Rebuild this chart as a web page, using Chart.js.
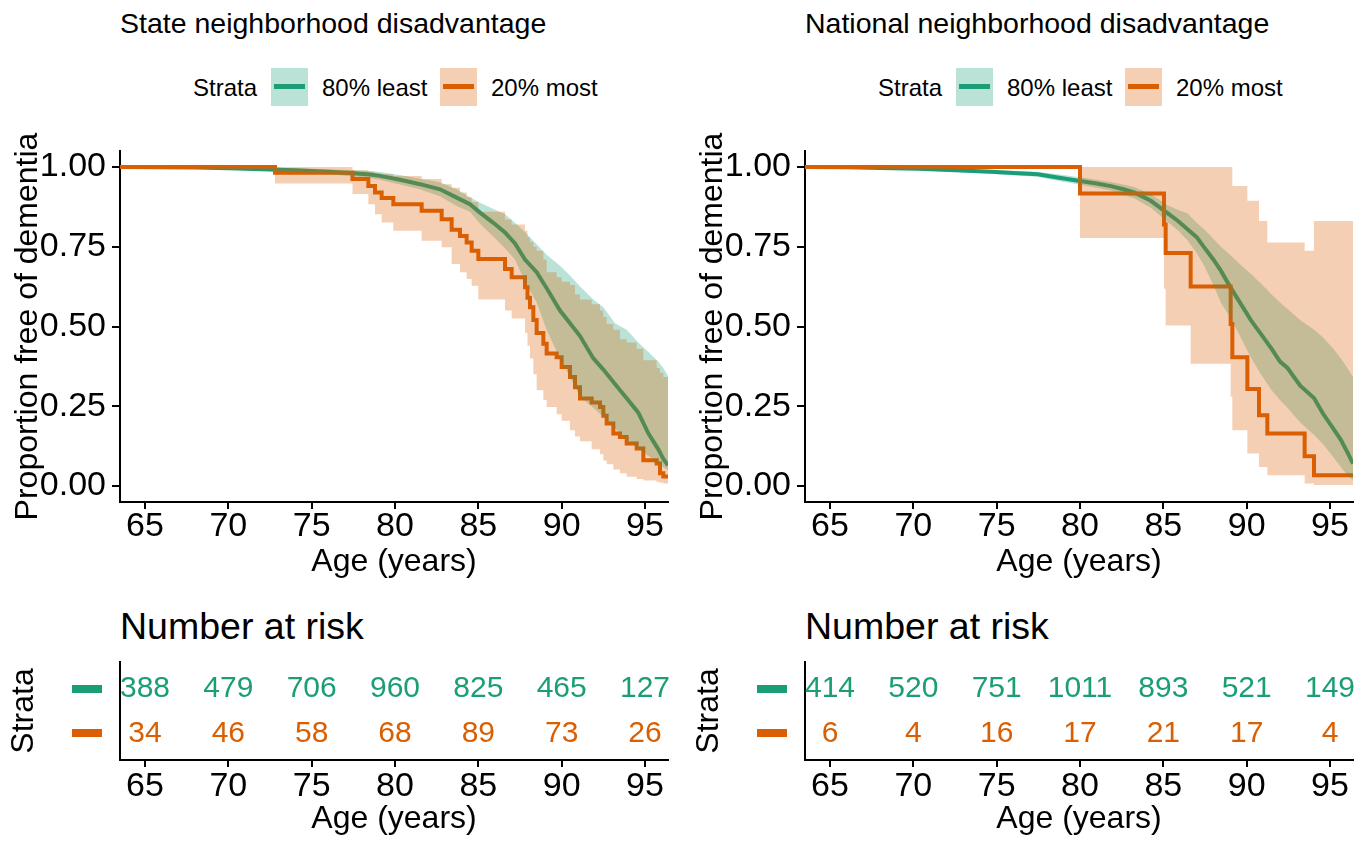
<!DOCTYPE html>
<html><head><meta charset="utf-8">
<script src="https://cdn.jsdelivr.net/npm/chart.js@4.4.0/dist/chart.umd.min.js"></script>
<style>
html,body{margin:0;padding:0;background:#fff;}
body{width:1370px;height:844px;position:relative;overflow:hidden;font-family:'Liberation Sans',Arial,Helvetica,sans-serif;color:#000;}
canvas{position:absolute;}
.t{position:absolute;white-space:nowrap;line-height:1;}
.title{font-size:28.5px;}
.leg{font-size:24px;}
.box{position:absolute;width:37px;height:38px;}
.box i{position:absolute;left:3px;right:3px;top:16px;height:5px;}
.nar{font-size:37.5px;}
</style>
</head><body>

<div class="t title" style="left:120px;top:9px;">State neighborhood disadvantage</div>
<div class="t title" style="left:805px;top:9px;">National neighborhood disadvantage</div>

<div class="t leg" style="left:193px;top:76px;">Strata</div>
<div class="box" style="left:271px;top:68px;background:rgba(27,158,119,0.3)"><i style="background:#1B9E77"></i></div>
<div class="t leg" style="left:322px;top:76px;">80% least</div>
<div class="box" style="left:440px;top:68px;background:rgba(217,95,2,0.3)"><i style="background:#D95F02"></i></div>
<div class="t leg" style="left:491px;top:76px;">20% most</div>

<div class="t leg" style="left:878px;top:76px;">Strata</div>
<div class="box" style="left:956px;top:68px;background:rgba(27,158,119,0.3)"><i style="background:#1B9E77"></i></div>
<div class="t leg" style="left:1007px;top:76px;">80% least</div>
<div class="box" style="left:1125px;top:68px;background:rgba(217,95,2,0.3)"><i style="background:#D95F02"></i></div>
<div class="t leg" style="left:1176px;top:76px;">20% most</div>

<div class="t nar" style="left:120px;top:608px;">Number at risk</div>
<div class="t nar" style="left:805px;top:608px;">Number at risk</div>

<canvas id="kmL" width="685" height="453" style="left:0;top:128px;"></canvas>
<canvas id="kmR" width="685" height="453" style="left:685px;top:128px;"></canvas>
<canvas id="rkL" width="685" height="188" style="left:0;top:650px;"></canvas>
<canvas id="rkR" width="685" height="188" style="left:685px;top:650px;"></canvas>

<script>
// ---------- data ----------
const ageTicks = [65, 70, 75, 80, 85, 90, 95];
const survTicks = [0, 0.25, 0.5, 0.75, 1];

// State neighborhood disadvantage — 80% least
const stateLeastAge   = [63.5, 66, 68, 70, 72, 74, 76, 77.5, 78.5, 79.1, 80.3, 81.5, 82.7, 83.7, 84.5, 85.1, 85.9, 86.6, 87.2, 87.8, 88.5, 89.1, 89.9, 90.5, 91.1, 91.9, 92.5, 93.2, 93.9, 94.6, 95.2, 95.8, 96.1, 96.38];
const stateLeastSurv  = [1.0, 0.999, 0.998, 0.996, 0.993, 0.99, 0.985, 0.98, 0.976, 0.972, 0.96, 0.946, 0.93, 0.904, 0.883, 0.857, 0.825, 0.795, 0.76, 0.71, 0.67, 0.62, 0.55, 0.51, 0.47, 0.40, 0.365, 0.32, 0.275, 0.23, 0.165, 0.115, 0.085, 0.065];
const stateLeastUpper = [1, 1, 1, 0.999, 0.998, 0.996, 0.993, 0.99, 0.987, 0.984, 0.975, 0.963, 0.952, 0.93, 0.905, 0.888, 0.868, 0.852, 0.825, 0.795, 0.758, 0.725, 0.69, 0.66, 0.625, 0.585, 0.56, 0.51, 0.49, 0.45, 0.42, 0.39, 0.37, 0.345];
const stateLeastLower = [1, 0.998, 0.996, 0.993, 0.988, 0.984, 0.977, 0.97, 0.965, 0.96, 0.945, 0.93, 0.908, 0.878, 0.86, 0.822, 0.782, 0.745, 0.71, 0.64, 0.575, 0.49, 0.4, 0.34, 0.28, 0.245, 0.217, 0.18, 0.144, 0.118, 0.095, 0.072, 0.06, 0.05];

// State neighborhood disadvantage — 20% most
const stateMostAge   = [63.5, 72.8, 77.45, 78.4, 78.8, 79.2, 79.9, 81.6, 82.8, 83.4, 83.9, 84.3, 84.6, 85.0, 86.6, 87.0, 87.8, 87.95, 88.1, 88.3, 88.5, 88.9, 89.1, 89.7, 90.0, 90.5, 90.8, 91.1, 91.8, 92.3, 92.5, 92.7, 93.1, 93.5, 93.9, 94.5, 94.9, 95.7, 95.9, 96.1, 96.38];
const stateMostSurv  = [1.0, 0.982, 0.962, 0.94, 0.92, 0.903, 0.883, 0.8625, 0.836, 0.803, 0.784, 0.763, 0.7375, 0.7115, 0.68, 0.654, 0.623, 0.59, 0.56, 0.52, 0.48, 0.446, 0.415, 0.404, 0.373, 0.342, 0.31, 0.274, 0.262, 0.248, 0.22, 0.196, 0.165, 0.154, 0.133, 0.118, 0.081, 0.071, 0.04, 0.03, 0.03];
const stateMostUpper = [1, 1, 0.99, 0.985, 0.98, 0.977, 0.972, 0.962, 0.946, 0.935, 0.92, 0.905, 0.89, 0.86, 0.835, 0.82, 0.8, 0.78, 0.765, 0.75, 0.7375, 0.71, 0.67, 0.654, 0.64, 0.63, 0.6, 0.585, 0.57, 0.55, 0.53, 0.508, 0.49, 0.46, 0.45, 0.43, 0.394, 0.37, 0.355, 0.342, 0.342];
const stateMostLower = [1, 0.948, 0.915, 0.883, 0.852, 0.826, 0.8, 0.769, 0.748, 0.696, 0.67, 0.649, 0.628, 0.585, 0.55, 0.525, 0.48, 0.44, 0.40, 0.35, 0.30, 0.27, 0.248, 0.225, 0.205, 0.175, 0.155, 0.14, 0.115, 0.1, 0.08, 0.068, 0.052, 0.04, 0.029, 0.022, 0.017, 0.013, 0.01, 0.008, 0.008];

// National neighborhood disadvantage — 80% least
const natLeastAge   = [63.5, 66, 68, 70.3, 72.5, 74.65, 76, 77.45, 78.65, 80.0, 81.0, 81.85, 82.6, 83.25, 84.25, 85.25, 85.9, 86.45, 87.0, 87.45, 88.0, 88.45, 89.0, 89.6, 90.25, 90.85, 91.5, 92.0, 92.45, 93.2, 94.05, 94.6, 95.2, 95.65, 96.1, 96.38];
const natLeastSurv  = [1, 0.999, 0.997, 0.994, 0.99, 0.985, 0.981, 0.977, 0.967, 0.956, 0.948, 0.94, 0.93, 0.92, 0.894, 0.855, 0.83, 0.805, 0.78, 0.748, 0.71, 0.675, 0.625, 0.575, 0.52, 0.477, 0.43, 0.39, 0.37, 0.315, 0.275, 0.225, 0.18, 0.145, 0.1, 0.07];
const natLeastUpper = [1, 1, 1, 0.998, 0.995, 0.991, 0.988, 0.985, 0.977, 0.968, 0.96, 0.953, 0.945, 0.937, 0.915, 0.88, 0.865, 0.855, 0.825, 0.805, 0.775, 0.75, 0.725, 0.695, 0.665, 0.635, 0.6, 0.575, 0.555, 0.52, 0.49, 0.465, 0.43, 0.4, 0.365, 0.342];
const natLeastLower = [1, 0.998, 0.994, 0.99, 0.985, 0.979, 0.974, 0.969, 0.957, 0.944, 0.935, 0.926, 0.914, 0.902, 0.872, 0.828, 0.8, 0.77, 0.73, 0.69, 0.63, 0.575, 0.53, 0.47, 0.404, 0.35, 0.3, 0.27, 0.245, 0.2, 0.16, 0.13, 0.09, 0.06, 0.03, 0.019];

// National neighborhood disadvantage — 20% most
const natMostAge   = [63.5, 80.0, 85.04, 85.14, 86.64, 89.04, 89.14, 90.04, 90.74, 91.24, 93.48, 94.04, 96.38];
const natMostSurv  = [1, 0.917, 0.82, 0.73, 0.625, 0.508, 0.404, 0.304, 0.222, 0.165, 0.093, 0.034, 0.034];
const natMostUpper = [1, 1, 1, 1, 1, 1, 0.94, 0.894, 0.831, 0.763, 0.7375, 0.831, 0.831];
const natMostLower = [1, 0.777, 0.618, 0.503, 0.383, 0.28, 0.175, 0.102, 0.06, 0.034, 0.008, 0.003, 0.003];

// Number at risk
const riskAges = [65, 70, 75, 80, 85, 90, 95];
const stateRiskLeast = [388, 479, 706, 960, 825, 465, 127];
const stateRiskMost  = [34, 46, 58, 68, 89, 73, 26];
const natRiskLeast   = [414, 520, 751, 1011, 893, 521, 149];
const natRiskMost    = [6, 4, 16, 17, 21, 17, 4];

// ---------- styling ----------
const GREEN = '#1B9E77', ORANGE = '#D95F02';
const GREEN_FILL = 'rgba(27,158,119,0.3)', ORANGE_FILL = 'rgba(217,95,2,0.3)';
const NONE = 'rgba(0,0,0,0)';
const FONT = "'Liberation Sans', Arial, Helvetica, sans-serif";
Chart.defaults.font.family = FONT;
Chart.defaults.color = '#000';

const xy = (a, v) => a.map((x, i) => ({x: x, y: v[i]}));
const X_MIN = 63.5, X_MAX = 96.38;
const TICK_FONT = {size: 34, lineHeight: 1};

function xScale(height, pad) {
  return {
    type: 'linear', min: X_MIN, max: X_MAX,
    afterBuildTicks: s => { s.ticks = ageTicks.map(v => ({value: v})); },
    ticks: {font: TICK_FONT, color: '#000', padding: pad, maxRotation: 0, autoSkip: false},
    grid: {display: true, drawOnChartArea: false, drawTicks: true, tickLength: 7, color: '#000', lineWidth: 2},
    border: {display: true, color: '#000', width: 2},
    title: {display: true, text: 'Age (years)', font: {size: 32}, color: '#000', padding: {top: 0, bottom: 0}},
    afterFit: s => { s.height = height; }
  };
}

function kmChart(id, L, M) {
  const band = {borderColor: NONE, borderWidth: 0, pointRadius: 0};
  return new Chart(document.getElementById(id), {
    type: 'line',
    data: {datasets: [
      {label: '80% least', data: xy(L.age, L.surv), borderColor: GREEN, borderWidth: 4, fill: false, order: 6},
      {label: '20% most', data: xy(M.age, M.surv), borderColor: ORANGE, borderWidth: 4, fill: false, stepped: 'before', order: 5},
      Object.assign({label: 'least upper', data: xy(L.age, L.upper), backgroundColor: GREEN_FILL, fill: 3, order: 4}, band),
      Object.assign({label: 'least lower', data: xy(L.age, L.lower), fill: false, order: 4}, band),
      Object.assign({label: 'most upper', data: xy(M.age, M.upper), backgroundColor: ORANGE_FILL, fill: 5, stepped: 'before', order: 2}, band),
      Object.assign({label: 'most lower', data: xy(M.age, M.lower), fill: false, stepped: 'before', order: 2}, band)
    ]},
    options: {
      responsive: false, animation: false, devicePixelRatio: 1,
      elements: {point: {radius: 0}, line: {tension: 0, borderCapStyle: 'butt', borderJoinStyle: 'miter'}},
      layout: {padding: {top: 0, right: 17, left: 0, bottom: 0}},
      plugins: {legend: {display: false}, tooltip: {enabled: false}, title: {display: false}},
      scales: {
        x: xScale(79, 1),
        y: {
          type: 'linear', min: -0.05, max: 1.05,
          afterBuildTicks: s => { s.ticks = survTicks.map(v => ({value: v})); },
          ticks: {font: TICK_FONT, color: '#000', padding: 6, callback: v => Number(v).toFixed(2)},
          grid: {display: true, drawOnChartArea: false, drawTicks: true, tickLength: 8, color: '#000', lineWidth: 2},
          border: {display: true, color: '#000', width: 2},
          title: {display: true, text: 'Proportion free of dementia', font: {size: 32}, color: '#000', padding: {top: 9, bottom: 0}},
          afterFit: s => { s.width = 120; }
        }
      }
    }
  });
}

const riskPlugin = {
  id: 'riskText',
  afterDatasetsDraw(chart) {
    const ctx = chart.ctx;
    ctx.save();
    ctx.font = '30px ' + FONT;
    ctx.textAlign = 'center';
    ctx.textBaseline = 'middle';
    chart.data.datasets.forEach((ds, i) => {
      const meta = chart.getDatasetMeta(i);
      ctx.fillStyle = ds.textColor;
      meta.data.forEach((el, j) => { ctx.fillText(String(ds.counts[j]), el.x, el.y); });
    });
    // strata key marks on the y axis
    const ys = chart.scales.y, left = chart.chartArea.left;
    chart.data.datasets.forEach(ds => {
      const py = ys.getPixelForValue(ds.row);
      ctx.fillStyle = ds.textColor;
      ctx.fillRect(left - 48, Math.round(py - 4), 30, 8);
    });
    ctx.restore();
  }
};

function riskChart(id, least, most) {
  return new Chart(document.getElementById(id), {
    type: 'scatter',
    data: {datasets: [
      {label: '80% least', row: 2, counts: least, textColor: GREEN, data: riskAges.map(a => ({x: a, y: 2}))},
      {label: '20% most', row: 1, counts: most, textColor: ORANGE, data: riskAges.map(a => ({x: a, y: 1}))}
    ]},
    options: {
      responsive: false, animation: false, devicePixelRatio: 1,
      elements: {point: {radius: 0}},
      layout: {padding: {top: 12, right: 17, left: 0, bottom: 0}},
      plugins: {legend: {display: false}, tooltip: {enabled: false}},
      scales: {
        x: xScale(78, 3),
        y: {
          type: 'linear', min: 0.4, max: 2.6,
          afterBuildTicks: s => { s.ticks = [1, 2].map(v => ({value: v})); },
          ticks: {callback: () => '', font: {size: 10}},
          grid: {display: false, drawTicks: false},
          border: {display: true, color: '#000', width: 2},
          title: {display: true, text: 'Strata', font: {size: 32}, color: '#000', padding: {top: 5, bottom: 0}},
          afterFit: s => { s.width = 120; }
        }
      }
    },
    plugins: [riskPlugin]
  });
}

kmChart('kmL',
  {age: stateLeastAge, surv: stateLeastSurv, upper: stateLeastUpper, lower: stateLeastLower},
  {age: stateMostAge, surv: stateMostSurv, upper: stateMostUpper, lower: stateMostLower});
kmChart('kmR',
  {age: natLeastAge, surv: natLeastSurv, upper: natLeastUpper, lower: natLeastLower},
  {age: natMostAge, surv: natMostSurv, upper: natMostUpper, lower: natMostLower});
riskChart('rkL', stateRiskLeast, stateRiskMost);
riskChart('rkR', natRiskLeast, natRiskMost);
</script>
</body></html>
